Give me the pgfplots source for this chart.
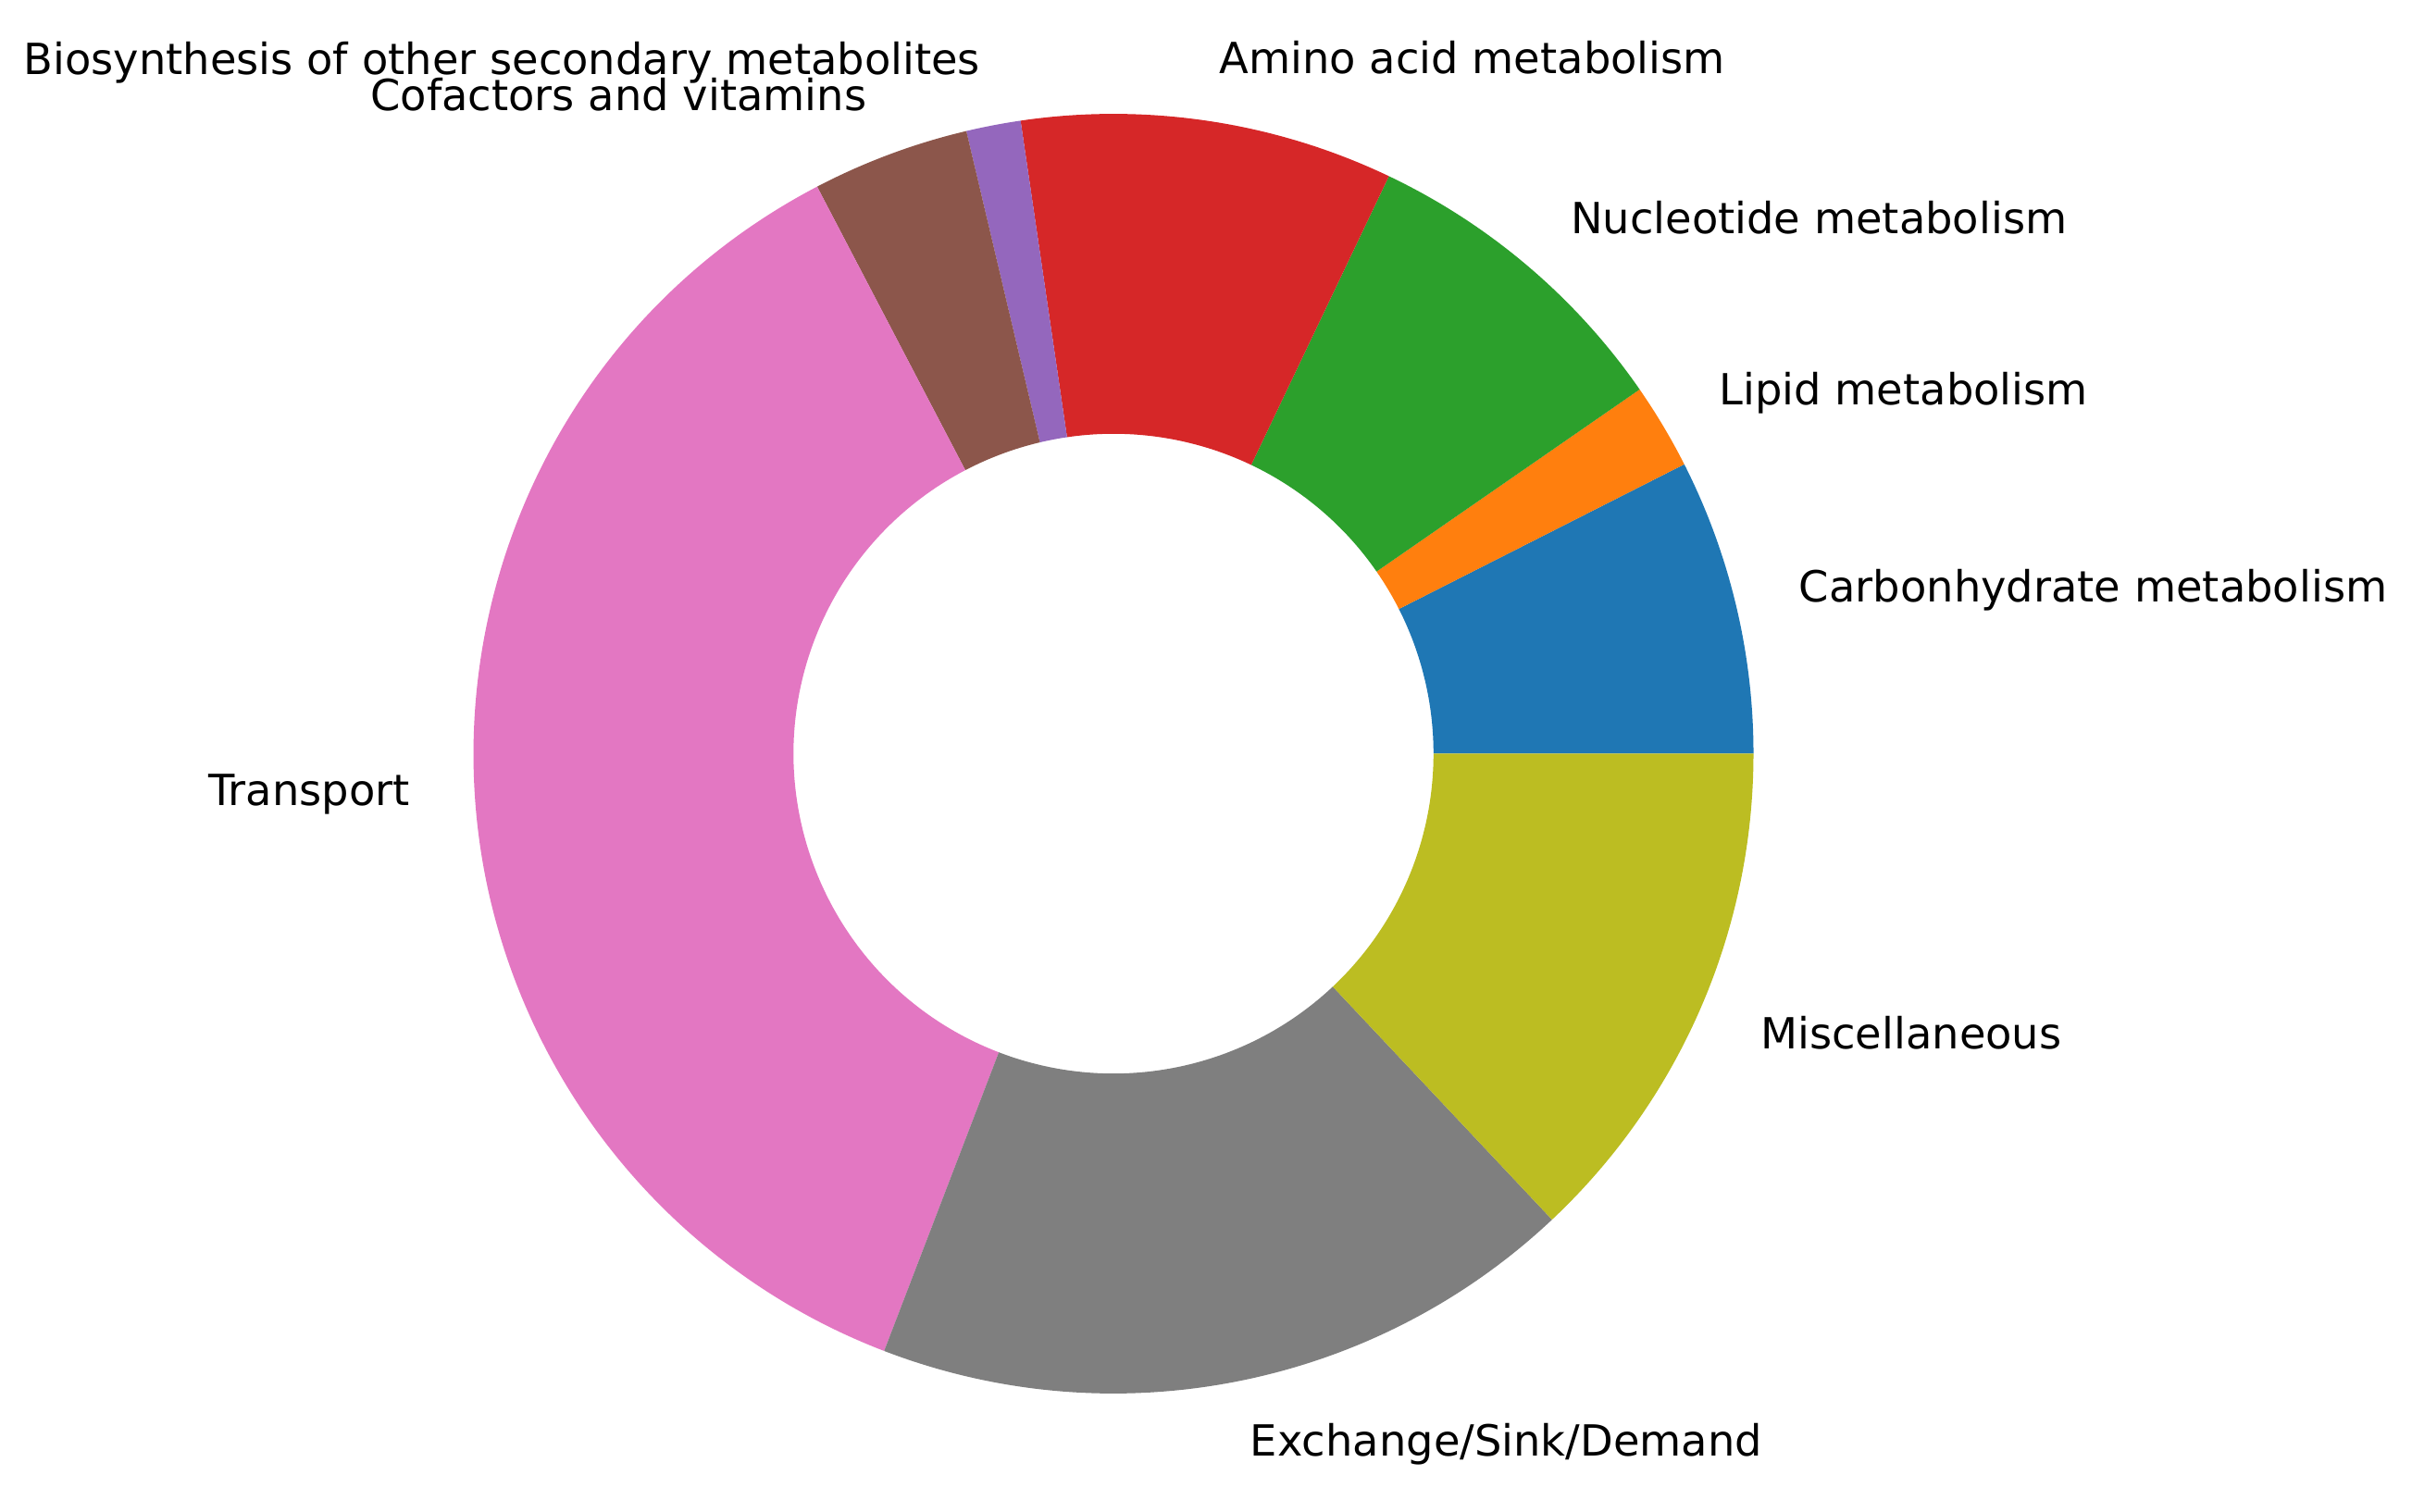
\documentclass[border=0pt]{standalone}
\usepackage{fontspec}
\setmainfont{DejaVu Sans}
\usepackage{pgfplots}
\usepackage{pgfplotstable}
\pgfplotsset{compat=1.18}

\definecolor{c0}{HTML}{1F77B4}
\definecolor{c1}{HTML}{FF7F0E}
\definecolor{c2}{HTML}{2CA02C}
\definecolor{c3}{HTML}{D62728}
\definecolor{c4}{HTML}{9467BD}
\definecolor{c5}{HTML}{8C564B}
\definecolor{c6}{HTML}{E377C2}
\definecolor{c7}{HTML}{7F7F7F}
\definecolor{c8}{HTML}{BCBD22}

% share of each group, in percent (counter-clockwise from 3 o'clock)
\pgfplotstableread[col sep=comma]{
label,value,color
Carbonhydrate metabolism,7.47,c0
Lipid metabolism,2.17,c1
Nucleotide metabolism,8.28,c2
Amino acid metabolism,9.40,c3
Biosynthesis of other secondary metabolites,1.375,c4
Cofactors and vitamins,3.97,c5
Transport,36.5,c6
Exchange/Sink/Demand,17.85,c7
Miscellaneous,12.985,c8
}\piedata

\begin{document}
\begin{tikzpicture}
\begin{axis}[
  x=4.245cm, y=4.245cm,
  xmin=-1.740, xmax=2.029, ymin=-1.185, ymax=1.178,
  hide axis, clip=false,
]
\path (axis cs:-1.740,-1.185) rectangle (axis cs:2.029,1.178);
\pgfplotstablegetrowsof{\piedata}
\pgfmathtruncatemacro\N{\pgfplotsretval-1}
\def\cum{0}
\pgfplotsforeachungrouped \i in {0,...,\N}{
  \pgfplotstablegetelem{\i}{value}\of\piedata \let\v\pgfplotsretval
  \pgfplotstablegetelem{\i}{color}\of\piedata \let\c\pgfplotsretval
  \pgfplotstablegetelem{\i}{label}\of\piedata \let\l\pgfplotsretval
  \pgfmathsetmacro\a{\cum*3.6}
  \pgfmathsetmacro\b{(\cum+\v)*3.6}
  \pgfmathsetmacro\m{(\a+\b)/2}
  \pgfmathsetmacro\ox{cos(\a)}\pgfmathsetmacro\oy{sin(\a)}
  \pgfmathsetmacro\ix{0.5*cos(\b)}\pgfmathsetmacro\iy{0.5*sin(\b)}
  \pgfmathsetmacro\lx{1.1*cos(\m)}\pgfmathsetmacro\ly{1.1*sin(\m)}
  \pgfmathsetmacro\cum{\cum+\v}
  \ifdim\lx pt>0pt \def\anc{west}\else\def\anc{east}\fi
  \edef\temp{
    \noexpand\fill[\c] (axis cs:\ox,\oy) arc[start angle=\a, end angle=\b, radius=4.245cm]
      -- (axis cs:\ix,\iy) arc[start angle=\b, end angle=\a, radius=2.1225cm] -- cycle;
    \noexpand\node[anchor=\anc, inner sep=0pt, font=\noexpand\fontsize{8.1}{9.7}\noexpand\selectfont]
      at (axis cs:\lx,\ly) {\l};
  }
  \temp
}
\end{axis}
\end{tikzpicture}
\end{document}
